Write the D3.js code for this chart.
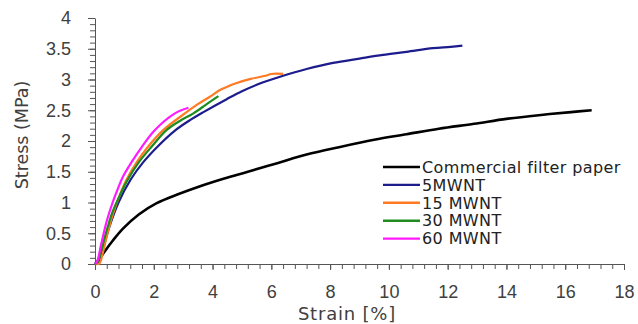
<!DOCTYPE html>
<html>
<head>
<meta charset="utf-8">
<script src="https://cdn.jsdelivr.net/npm/d3@7/dist/d3.min.js"></script>
<style>
  body { margin: 0; background: #fff; }
  svg { display: block; font-family: "DejaVu Sans", sans-serif; }
  .tick text { fill: #404040; }
</style>
</head>
<body>
<svg id="chart" width="638" height="324"></svg>
<script>
// series names and colours (legend order)
var seriesNames = ['Commercial filter paper', '5MWNT', '15 MWNT', '30 MWNT', '60 MWNT'];
var seriesColors = ['#000000', '#1c1c8c', '#ff7a22', '#1e8c1e', '#ff1aff'];

// strain [%], stress (MPa)
var paper = [[0, 0], [0.1, 0.04], [0.28, 0.17], [0.62, 0.39], [0.96, 0.58], [1.5, 0.81], [2.1, 0.99],
  [2.8, 1.13], [3.6, 1.27], [4.4, 1.39], [5.2, 1.5], [6.2, 1.64], [7.2, 1.78], [8.3, 1.9], [9.5, 2.02],
  [10.6, 2.11], [11.7, 2.2], [12.9, 2.28], [14.0, 2.36], [15.1, 2.42], [16.2, 2.47], [16.9, 2.5]];
var mwnt5 = [[0, 0], [0.1, 0.06], [0.2, 0.12], [0.35, 0.38], [0.5, 0.62], [0.8, 1.0], [1.21, 1.37],
  [1.65, 1.66], [2.15, 1.92], [2.72, 2.17], [3.2, 2.33], [3.69, 2.47], [4.48, 2.68], [5.0, 2.81],
  [5.7, 2.95], [6.4, 3.06], [7.2, 3.17], [8.1, 3.27], [9.0, 3.34], [9.8, 3.4], [10.6, 3.45], [11.5, 3.51],
  [12.1, 3.53], [12.5, 3.55]];
var mwnt15 = [[0, 0], [0.15, 0.01], [0.25, 0.15], [0.4, 0.45], [0.6, 0.8], [0.85, 1.13], [1.05, 1.35],
  [1.4, 1.64], [1.81, 1.91], [2.33, 2.18], [3.06, 2.45], [3.5, 2.6], [3.91, 2.72], [4.3, 2.84],
  [4.8, 2.94], [5.3, 3.01], [5.8, 3.06], [6.0, 3.09], [6.4, 3.09]];
var mwnt30 = [[0, 0], [0.1, 0.04], [0.2, 0.2], [0.4, 0.55], [0.6, 0.85], [0.85, 1.12], [1.1, 1.36],
  [1.5, 1.66], [1.93, 1.91], [2.44, 2.18], [2.9, 2.33], [3.35, 2.45], [3.8, 2.6], [4.2, 2.73]];
var mwnt60 = [[0, 0], [0.08, 0.05], [0.2, 0.3], [0.4, 0.7], [0.6, 1.0], [0.8, 1.25], [0.95, 1.42],
  [1.25, 1.66], [1.6, 1.91], [2.04, 2.18], [2.72, 2.45], [3.18, 2.54]];

var xTicks = [0, 2, 4, 6, 8, 10, 12, 14, 16, 18];
var yTicks = [0, 0.5, 1, 1.5, 2, 2.5, 3, 3.5, 4];

var svg = d3.select('#chart');
var x = d3.scaleLinear().domain([0, 18]).range([95, 624]);
var y = d3.scaleLinear().domain([0, 4]).range([264, 18]);

//minor ticks first, excel style: major / 5
var xMinor = d3.range(0, 18.001, 0.4);
var yMinor = d3.range(0, 4.001, 0.1);

svg.append('g').attr('transform', 'translate(0,264)')
  .call(d3.axisBottom(x).tickValues(xMinor).tickSize(5).tickFormat(''))
  .call(function (g) { g.select('.domain').remove(); })
  .selectAll('line').attr('stroke', '#555');
svg.append('g').attr('transform', 'translate(95,0)')
  .call(d3.axisLeft(y).tickValues(yMinor).tickSize(5).tickFormat(''))
  .call(function (g) { g.select('.domain').remove(); })
  .selectAll('line').attr('stroke', '#555');

var gx = svg.append('g').attr('transform', 'translate(0,264)')
  .call(d3.axisBottom(x).tickValues(xTicks).tickSize(6).tickPadding(15).tickSizeOuter(0));
gx.selectAll('text').style('font-size', '18px');
var gy = svg.append('g').attr('transform', 'translate(95,0)')
  .call(d3.axisLeft(y).tickValues(yTicks).tickFormat(d3.format('')).tickSize(7).tickPadding(17).tickSizeOuter(0));
gy.selectAll('text').style('font-size', '18px');
svg.selectAll('.domain, .tick line').attr('stroke', '#555');

// axis titles
svg.append('text').attr('transform', 'translate(28,135) rotate(-90)')
  .attr('text-anchor', 'middle').style('font-size', '17.5px').attr('fill', '#404040')
  .text('Stress (MPa)');
svg.append('text').attr('x', 347).attr('y', 320)
  .attr('text-anchor', 'middle').style('font-size', '18px').style('letter-spacing', '0.8px')
  .attr('fill', '#404040').text('Strain [%]');

// curves
var line = d3.line().x(function (d) { return x(d[0]); }).y(function (d) { return y(d[1]); })
  .curve(d3.curveCatmullRom.alpha(0.5));
var allSeries = [paper, mwnt5, mwnt15, mwnt30, mwnt60];
svg.append('g').selectAll('path').data(allSeries).enter().append('path')
  .attr('d', line).attr('fill', 'none')
  .attr('stroke', function (d, i) { return seriesColors[i]; })
  .attr('stroke-width', function (d, i) { return i === 0 ? 2.6 : 2.2; })
  .attr('stroke-linejoin', 'round');

// legend
var leg = svg.append('g').attr('class', 'legend');
var rows = leg.selectAll('g').data(seriesNames).enter().append('g')
  .attr('transform', function (d, i) { return 'translate(383,' + (167 + i * 17.9) + ')'; });
rows.append('line').attr('x1', 0).attr('x2', 37)
  .attr('stroke', function (d, i) { return seriesColors[i]; }).attr('stroke-width', 2.4);
rows.append('text').attr('x', 39).attr('dy', '0.36em')
  .style('font-size', '16px').style('letter-spacing', '0.4px').attr('fill', '#222')
  .text(function (d) { return d; });
</script>
</body>
</html>
